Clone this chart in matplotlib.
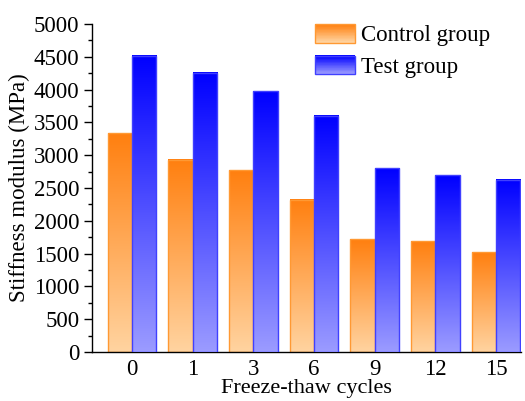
import numpy as np
import matplotlib
matplotlib.use("Agg")
import matplotlib.pyplot as plt
from matplotlib.colors import LinearSegmentedColormap
from matplotlib.patches import Rectangle
from matplotlib.legend_handler import HandlerBase
from matplotlib.ticker import MultipleLocator

# Stiffness modulus after freeze-thaw cycling
cycles = ["0", "1", "3", "6", "9", "12", "15"]
control_group = [3334, 2927, 2770, 2317, 1718, 1687, 1519]
test_group = [4512, 4253, 3974, 3602, 2800, 2693, 2627]

plt.rcParams["font.family"] = ["Liberation Serif", "DejaVu Serif"]
plt.rcParams["font.size"] = 16.5

orange_cmap = LinearSegmentedColormap.from_list(
    "orange_grad", [(1.0, 0.83, 0.63), (1.0, 0.5, 0.06)])
blue_cmap = LinearSegmentedColormap.from_list(
    "blue_grad", [(0.61, 0.61, 1.0), (0.0, 0.0, 1.0)])
orange_edge = (1.0, 0.6, 0.2)
blue_edge = (0.25, 0.25, 1.0)

fig = plt.figure(figsize=(5.25, 4.01), dpi=100)
ax = fig.add_axes([0.1752, 0.1222, 0.818, 0.818])

x = np.arange(len(cycles))
w = 0.40
grad = np.linspace(0, 1, 256).reshape(-1, 1)


def gradient_bars(xs, heights, cmap, edge, z):
    for xc, h in zip(xs, heights):
        ax.imshow(grad, cmap=cmap, origin="lower", aspect="auto",
                  extent=(xc, xc + w, 0, h), zorder=z, interpolation="bilinear")
    ax.bar(xs, heights, w, align="edge", facecolor="none",
           edgecolor=edge, linewidth=1.0, zorder=z + 0.5)


gradient_bars(x - w, control_group, orange_cmap, orange_edge, 2)
gradient_bars(x, test_group, blue_cmap, blue_edge, 3)

ax.set_xlim(-0.66, 6.42)
ax.set_ylim(0, 5000)
ax.set_xticks(x)
ax.set_xticklabels(cycles)
ax.yaxis.set_major_locator(MultipleLocator(500))
ax.yaxis.set_minor_locator(MultipleLocator(250))
ax.tick_params(axis="x", length=0, pad=5)
ax.tick_params(axis="y", which="major", length=6, width=1, direction="out", pad=3)
ax.tick_params(axis="y", which="minor", length=3, width=1, direction="out")
for side in ("top", "right"):
    ax.spines[side].set_visible(False)
ax.spines["left"].set_linewidth(1.0)
ax.spines["bottom"].set_linewidth(1.0)

ax.set_xlabel("Freeze-thaw cycles", fontsize=16, labelpad=-1)
ax.set_ylabel("Stiffness modulus (MPa)", fontsize=16.5, labelpad=3)


class GradientHandler(HandlerBase):
    def __init__(self, cmap, edge):
        super().__init__()
        self.cmap = cmap
        self.edge = edge

    def create_artists(self, legend, orig_handle, xdescent, ydescent,
                       width, height, fontsize, trans):
        n = 30
        arts = []
        for i in range(n):
            c = self.cmap(i / (n - 1))
            y0 = -ydescent + height * i / n
            arts.append(Rectangle((-xdescent, y0), width, height / n + 0.3,
                                  facecolor=c, edgecolor="none", transform=trans))
        arts.append(Rectangle((-xdescent, -ydescent), width, height,
                              facecolor="none", edgecolor=self.edge,
                              linewidth=1.0, transform=trans))
        return arts


h_ctrl = Rectangle((0, 0), 1, 1)
h_test = Rectangle((0, 0), 1, 1)
ax.legend([h_ctrl, h_test], ["Control group", "Test group"],
          handler_map={h_ctrl: GradientHandler(orange_cmap, orange_edge),
                       h_test: GradientHandler(blue_cmap, blue_edge)},
          loc="upper left", bbox_to_anchor=(0.472, 1.062), frameon=False,
          handlelength=1.75, handleheight=0.85, handletextpad=0.25,
          labelspacing=0.4, fontsize=16.5)

fig.savefig("out.png", dpi=100)
